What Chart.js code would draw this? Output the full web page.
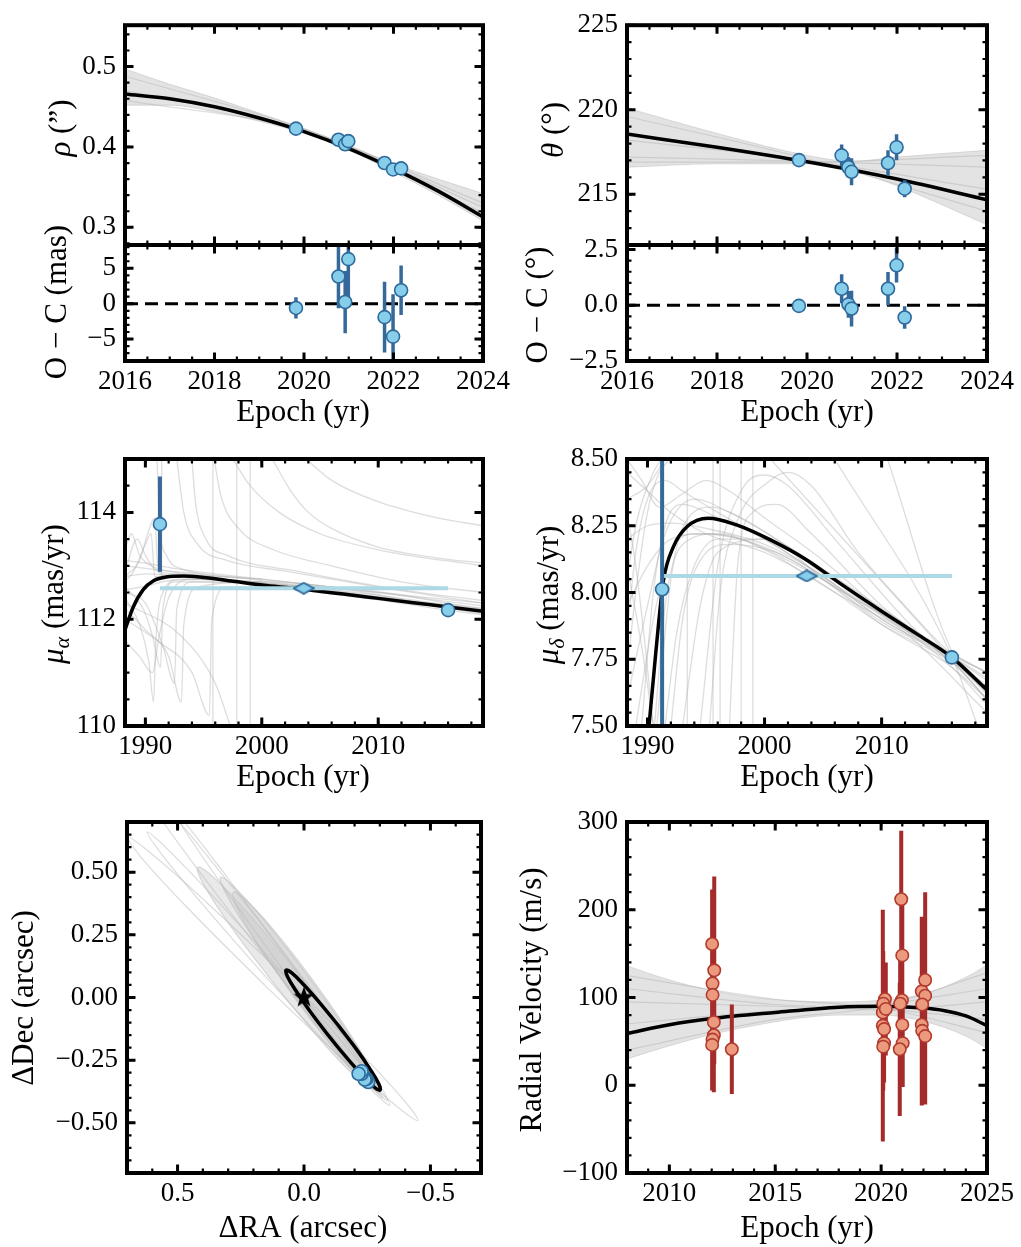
<!DOCTYPE html>
<html>
<head>
<meta charset="utf-8">
<script src="https://cdn.jsdelivr.net/npm/chart.js@4.4.0/dist/chart.umd.min.js"></script>
<style>
html, body { margin: 0; padding: 0; background: #fff; }
#fig { position: relative; width: 1021px; height: 1247px; }
#fig canvas { position: absolute; left: 0; top: 0; }
</style>
</head>
<body>
<div id="fig">
  <canvas id="sepMain" width="1021" height="1247"></canvas>
  <canvas id="sepRes" width="1021" height="1247"></canvas>
  <canvas id="paMain" width="1021" height="1247"></canvas>
  <canvas id="paRes" width="1021" height="1247"></canvas>
  <canvas id="pmRa" width="1021" height="1247"></canvas>
  <canvas id="pmDec" width="1021" height="1247"></canvas>
  <canvas id="orbit" width="1021" height="1247"></canvas>
  <canvas id="rv" width="1021" height="1247"></canvas>
</div>
<script>
// ---- relative astrometry ----
const astEpochs = [2019.82, 2020.77, 2020.92, 2020.99, 2021.80, 2021.99, 2022.17];
const sepVals = [0.4228, 0.4090, 0.4033, 0.4072, 0.3800, 0.3720, 0.3733];
const sepResid = [-0.6, 3.85, 0.24, 6.3, -1.9, -4.65, 1.9];      // mas
const sepResidErr = [1.5, 4.5, 4.4, 5.5, 5.0, 6.0, 3.5];         // mas
const paVals = [217.02, 217.30, 216.60, 216.33, 216.85, 217.78, 215.33];
const paErr = [0.25, 0.65, 0.60, 0.80, 0.75, 0.77, 0.50];
const paResid = [-0.03, 0.74, 0.04, -0.15, 0.74, 1.79, -0.55];
const raOff = [-0.254, -0.247, -0.240, -0.240, -0.228, -0.228, -0.216];
const decOff = [-0.337, -0.324, -0.324, -0.327, -0.304, -0.294, -0.304];

const sepFit = [[2016,0.466],[2017,0.460],[2018,0.450],[2019,0.436],[2020,0.419],[2021,0.398],[2022,0.373],[2023,0.345],[2024,0.313]];
const sepBandHi = [[2016,0.497],[2017,0.478],[2018,0.461],[2019,0.442],[2020,0.423],[2021,0.402],[2022,0.379],[2023,0.360],[2024,0.342]];
const sepBandLo = [[2016,0.452],[2017,0.452],[2018,0.444],[2019,0.432],[2020,0.417],[2021,0.396],[2022,0.369],[2023,0.340],[2024,0.308]];
const sepGray = [
  [[2016,0.488],[2020,0.4225],[2024,0.330]],
  [[2016,0.470],[2020,0.421],[2024,0.318]],
  [[2016,0.458],[2020,0.420],[2024,0.325]]
];
const paFit = [[2016,218.56],[2018,217.78],[2020,216.92],[2022,215.90],[2024,214.67]];
const paBandHi = [[2016,220.1],[2018,218.6],[2020,217.3],[2021,216.95],[2022,217.2],[2024,217.6]];
const paBandLo = [[2016,216.6],[2018,216.8],[2020,216.8],[2021,216.4],[2022,215.5],[2024,213.2]];
const paGray = [
  [[2016,219.6],[2020,217.1],[2024,214.0]],
  [[2016,217.2],[2020,216.95],[2024,216.6]],
  [[2016,218.2],[2020,217.0],[2024,215.3]],
  [[2016,216.9],[2020,216.9],[2024,217.3]]
];

// ---- Hipparcos / Gaia proper motions ----
const pmEpochs = [1991.25, 2016.0];
const pmAlpha = [113.78, 112.17];
const pmAlphaErr = [0.89, 0.03];
const pmDelta = [8.012, 7.757];
const pmDeltaErr = [1.0, 0.025];
const hgEpoch = [2003.6];
const hgAlpha = [112.58];
const hgDelta = [8.062];
const hgSpan = [1991.25, 2016.0];

const muAFit = [[1988.25,111.8],[1988.96,112.23],[1989.8,112.55],[1990.7,112.72],[1991.8,112.79],[1993.3,112.81],[1994.7,112.79],[1997.55,112.71],[2000.4,112.63],[2003.57,112.56],[2007,112.47],[2010,112.39],[2013,112.31],[2016,112.23],[2019,112.15]];
const muAGray = [
  [[1988.25,113.0],[1990,112.95],[1992,112.9],[1995,112.85],[2000,112.72],[2005,112.58],[2010,112.45],[2015,112.3],[2019,112.2]],
  [[1988.25,112.55],[1990,112.62],[1992,112.72],[1995,112.74],[2000,112.64],[2005,112.5],[2010,112.36],[2015,112.2],[2019,112.08]],
  [[1988.25,112.8],[1990,112.85],[1993,112.82],[2000,112.68],[2010,112.42],[2019,112.18]],
  [[1988.25,113.1],[1990,113.05],[1992.5,112.95],[1996,112.85],[2000,112.75],[2010,112.5],[2019,112.3]],
  [[1988.25,112.4],[1989.5,111.9],[1990.3,111.2],[1990.7,110.45],[1990.9,111.6],[1991.5,112.5],[1993,112.75],[2000,112.68],[2019,112.15]],
  [[1988.25,112.2],[1990,111.8],[1992,111.3],[1993.1,110.45],[1993.3,111.9],[1994.5,112.6],[2000,112.7],[2019,112.1]],
  [[1988.25,112.0],[1991,111.6],[1994,111.0],[1995.5,110.2],[1995.7,112.0],[1997,112.6],[2005,112.6],[2019,112.2]],
  [[1988.25,112.3],[1993,111.7],[1996,110.8],[1997.3,110.0]],
  [[1988.25,111.6],[1989.5,111.3],[1990.6,111.0],[1991.2,111.7],[1992,112.4],[1994,112.75],[2000,112.7]],
  [[1988.25,112.6],[1989.8,112.2],[1990.6,111.7],[1991.3,111.1],[1991.5,112.2],[1992.5,112.7],[2000,112.7]],
  [[1988.25,112.5],[1990,112.3],[1991.5,111.5],[1992.5,110.8],[1992.7,112.2],[1994,112.7],[2005,112.6]],
  [[1988.25,113.3],[1988.8,113.6],[1989.5,113.2],[1990.5,113.0],[1992,112.9],[2000,112.75],[2019,112.25]],
  [[1988.25,112.9],[1989.3,113.5],[1990,113.2],[1991,112.9],[1993,112.85]],
  [[1988.25,112.8],[1989.5,113.1],[1990.2,113.6],[1990.8,113.9],[1991.1,112.9],[1992,112.8],[2005,112.6]],
  [[1988.25,112.7],[1989,112.9],[1990,113.4],[1990.5,113.6],[1990.8,112.8],[1992,112.8]],
  [[1991.0,115.0],[1991.2,113.8],[1991.8,113.2],[1993,112.95],[2000,112.75]],
  [[1992.7,115.0],[1993.3,114.0],[1994.5,113.4],[1997,113.1],[2002,112.9],[2010,112.6],[2019,112.3]],
  [[1994.0,115.0],[1994.3,114.2],[1995.2,113.5],[1997,113.2],[2003,112.9],[2012,112.55],[2019,112.35]],
  [[1995.9,115.0],[1996.5,114.3],[1998,113.7],[2001,113.3],[2006,113.0],[2012,112.7],[2019,112.5]],
  [[1997.5,115.0],[1999,114.5],[2001.5,114.0],[2005,113.6],[2010,113.3],[2019,113.0]],
  [[2000.9,115.0],[2002.5,114.4],[2004,114.0],[2006,113.7],[2010,113.35],[2015,113.15],[2019,113.05]],
  [[2003.8,115.0],[2006,114.6],[2010,114.2],[2015,113.9],[2019,113.75]]
];
const muAVert = [
  [[1995.8,110],[1995.8,115]],
  [[1997.85,110],[1997.85,115]],
  [[1999.0,110],[1999.0,115]],
  [[1991.4,112.8],[1991.4,115]]
];

const muDFit = [[1990.0,7.44],[1990.52,7.685],[1990.95,7.885],[1991.37,8.047],[1992.2,8.17],[1993.37,8.246],[1995.2,8.278],[1997.6,8.253],[2000.5,8.197],[2003.6,8.122],[2006.45,8.034],[2010,7.93],[2013,7.845],[2016,7.757],[2019,7.635]];
const muDGray = [
  [[1988.25,8.45],[1990,8.38],[1992,8.3],[1995,8.22],[2000,8.15],[2005,8.03],[2010,7.88],[2016,7.74],[2019,7.64]],
  [[1988.25,8.2],[1990,8.25],[1992,8.26],[1995,8.24],[2000,8.18],[2005,8.06],[2010,7.9],[2016,7.76],[2019,7.68]],
  [[1988.25,7.95],[1990,8.1],[1992,8.2],[1995,8.22],[2000,8.17],[2005,8.05],[2010,7.89],[2016,7.74],[2019,7.6]],
  [[1989.0,7.5],[1990.5,7.9],[1992,8.15],[1994,8.22],[1998,8.2],[2002,8.12],[2008,7.97],[2016,7.75],[2019,7.62]],
  [[1990.6,7.5],[1991.5,7.95],[1993,8.18],[1996,8.22],[2000,8.16],[2006,8.0],[2012,7.86],[2016,7.77],[2019,7.7]],
  [[1992.0,7.5],[1993,7.9],[1994.5,8.12],[1997,8.18],[2001,8.15],[2006,8.02],[2012,7.85],[2019,7.55]],
  [[1988.25,8.5],[1989.5,8.42],[1991,8.32],[1993,8.37],[1995,8.42],[1997,8.38],[2000,8.28],[2005,8.12],[2010,7.93],[2016,7.72],[2019,7.58]],
  [[1994.5,7.5],[1996,8.1],[1998,8.38],[2000,8.44],[2002,8.4],[2006,8.2],[2012,7.9],[2016,7.73]],
  [[1993.0,7.5],[1994.5,7.95],[1996,8.15],[2000,8.2],[2005,8.05],[2010,7.88],[2016,7.72],[2019,7.6]],
  [[1988.25,7.7],[1989,8.0],[1990,8.3],[1991,8.45],[1992,8.5]],
  [[1988.25,8.1],[1989.5,7.8],[1990.5,7.5]],
  [[1988.25,8.35],[1990,8.4],[1991.5,8.5]],
  [[1988.25,7.6],[1990,7.95],[1991.5,8.22],[1994,8.35],[1997,8.3],[2001,8.2],[2008,8.0],[2016,7.77],[2019,7.7]],
  [[1988.25,7.85],[1989,8.15],[1990,8.35],[1991.5,8.42],[1993,8.38],[1996,8.3],[2000,8.2],[2005,8.06],[2010,7.9],[2016,7.75],[2019,7.65]],
  [[1989.5,7.5],[1990.5,8.0],[1991.5,8.25],[1993,8.33],[1996,8.28],[2000,8.2],[2006,8.03],[2012,7.86],[2016,7.75],[2019,7.63]],
  [[1990.8,7.5],[1992,8.05],[1993.5,8.28],[1995.5,8.32],[1998,8.28],[2002,8.17],[2008,7.98],[2016,7.74],[2019,7.6]],
  [[1991.5,7.5],[1992.5,7.85],[1994,8.1],[1996,8.2],[2000,8.2],[2005,8.07],[2010,7.92],[2016,7.76],[2019,7.67]],
  [[1988.25,8.3],[1989,8.1],[1989.8,7.8],[1990.5,7.5]],
  [[1988.25,8.05],[1989,8.25],[1990.5,8.45],[1991.2,8.5]],
  [[1995.3,7.5],[1996.2,8.0],[1997.5,8.25],[2000.5,8.42],[2002,8.45],[2004,8.4],[2008,8.15],[2012,7.95],[2016,7.77],[2019,7.7]],
  [[1997.0,7.5],[1997.7,8.1],[1999,8.3],[2001,8.33],[2004,8.22],[2010,7.95],[2016,7.75]],
  [[2000.5,8.5],[2016,7.75],[2019,7.6]],
  [[2006,8.5],[2016,7.76],[2018.2,7.5]],
  [[2010.5,8.5],[2016,7.78],[2019,7.62]]
];
const muDVert = [
  [[1993.4,7.5],[1993.4,8.5]],
  [[1995.6,7.5],[1995.6,8.5]],
  [[1996.2,7.5],[1996.2,8.5]],
  [[1998.0,7.5],[1998.0,8.5]],
  [[1999.0,7.5],[1999.0,8.5]]
];

// ---- sky-plane orbit (dRA, dDec in arcsec) ----
const orbitFit = [[-0.137,-0.113],[-0.064,-0.023],[0.001,0.051],[0.0485,0.098],[0.071,0.109],[0.0655,0.084],[0.032,0.027],[-0.023,-0.054],[-0.093,-0.147],[-0.166,-0.237],[-0.231,-0.311],[-0.2785,-0.358],[-0.301,-0.369],[-0.2955,-0.344],[-0.262,-0.287],[-0.207,-0.206],[-0.137,-0.113]];
const orbitGray = [
  [[0.153,0.0465],[-0.138,-0.232],[-0.359,-0.428],[-0.45,-0.49],[-0.387,-0.400],[-0.187,-0.183],[0.097,0.1035],[0.388,0.382],[0.609,0.578],[0.70,0.64],[0.637,0.550],[0.437,0.333],[0.153,0.0465]],
  [[0.1625,0.0952],[-0.081,-0.175],[-0.265,-0.367],[-0.34,-0.43],[-0.287,-0.347],[-0.120,-0.140],[0.1175,0.1348],[0.361,0.405],[0.545,0.597],[0.62,0.66],[0.567,0.577],[0.400,0.370],[0.1625,0.0952]],
  [[0.2027,0.2236],[-0.0535,-0.101],[-0.248,-0.333],[-0.33,-0.41],[-0.276,-0.311],[-0.1015,-0.064],[0.1473,0.2664],[0.4035,0.591],[0.598,0.823],[0.68,0.90],[0.626,0.801],[0.452,0.554],[0.2027,0.2236]],
  [[0.1212,0.1633],[-0.0885,-0.1226],[-0.246,-0.329],[-0.31,-0.40],[-0.262,-0.317],[-0.1165,-0.1024],[0.0888,0.1867],[0.2985,0.4726],[0.456,0.679],[0.52,0.75],[0.472,0.667],[0.3265,0.452],[0.1212,0.1633]]
];
const orbitCloud = [
  [[0.051,0.023],[-0.111,-0.188],[-0.240,-0.335],[-0.30,-0.38],[-0.276,-0.309],[-0.174,-0.142],[-0.021,0.077],[0.141,0.288],[0.270,0.435],[0.33,0.48],[0.306,0.409],[0.204,0.242],[0.051,0.023]],
  [[0.0356,-0.0043],[-0.112,-0.198],[-0.232,-0.332],[-0.29,-0.37],[-0.272,-0.302],[-0.183,-0.147],[-0.0456,0.0543],[0.102,0.248],[0.222,0.382],[0.28,0.42],[0.262,0.352],[0.173,0.197],[0.0356,-0.0043]],
  [[0.1144,0.0491],[-0.063,-0.167],[-0.204,-0.316],[-0.27,-0.36],[-0.244,-0.286],[-0.132,-0.113],[0.0356,0.1109],[0.213,0.327],[0.354,0.476],[0.42,0.52],[0.394,0.446],[0.282,0.273],[0.1144,0.0491]]
];
const hostStar = [[0, 0]];

// ---- radial velocities (m/s) ----
const rvEpochs = [2012.02, 2012.12, 2012.04, 2012.04, 2012.10, 2012.10, 2012.04, 2012.02, 2012.95,
  2020.18, 2020.10, 2020.08, 2020.22, 2020.08, 2020.14, 2020.14, 2020.10,
  2020.95, 2021.00, 2020.98, 2020.90, 2021.00, 2021.02, 2020.88,
  2021.92, 2022.08, 2022.08, 2021.94, 2021.92, 2021.94, 2022.08];
const rvVals = [161, 131, 116, 103, 72, 57, 52, 46, 41,
  98, 93, 83, 87, 68, 64, 48, 44,
  212, 148, 97, 93, 69, 48, 41,
  107, 120, 102, 92, 69, 62, 56];
const rvErr = [62, 107, 100, 95, 80, 60, 58, 52, 51,
  40, 60, 50, 53, 132, 60, 45, 50,
  78, 70, 95, 60, 60, 50, 76,
  85, 100, 80, 70, 92, 80, 78];
const rvFit = [[2008,59],[2010,69],[2012,76],[2015,83],[2018,89],[2020,90],[2022,88],[2023,85],[2024,79],[2025,68]];
const rvBandHi = [[2008,136],[2010,120],[2012,108],[2014,100],[2016,96],[2018,95],[2020,97],[2022,104],[2024,123],[2025,137]];
const rvBandLo = [[2008,30],[2010,45],[2012,58],[2014,68],[2016,76],[2018,80],[2020,80],[2022,73],[2024,56],[2025,42]];
const rvGray = [
  [[2008,125],[2015,98],[2020,88],[2025,60]],
  [[2008,40],[2015,75],[2020,90],[2025,128]],
  [[2008,95],[2015,90],[2020,86],[2025,95]],
  [[2008,70],[2015,85],[2020,92],[2025,110]],
  [[2008,110],[2015,92],[2020,87],[2025,75]]
];

// ---- tick labels ----
const yearTicks = [2016, 2018, 2020, 2022, 2024];
const sepTicks = [0.3, 0.4, 0.5];
const sepResTicks = [-5, 0, 5];
const paTicks = [215, 220, 225];
const paResTicks = [-2.5, 0, 2.5];
const pmYearTicks = [1990, 2000, 2010];
const muATicks = [110, 112, 114];
const muDTicks = [7.5, 7.75, 8.0, 8.25, 8.5];
const raTicks = [0.5, 0, -0.5];
const decTicks = [-0.5, -0.25, 0, 0.25, 0.5];
const rvYearTicks = [2010, 2015, 2020, 2025];
const rvTicks = [-100, 0, 100, 200, 300];

// ---------------------------------------------------------------
const W = 1021, H = 1247;
const FONT = "'Liberation Serif', 'Times New Roman', serif";
const GRAY = 'rgba(175,175,175,0.42)';
const BAND = 'rgba(200,200,200,0.5)';
const PT_FILL = '#87CEEB', PT_EDGE = '#2E6A9C', ERR_BLUE = '#35699A', HG_BLUE = '#ADD8E6';
const RV_FILL = '#EC9A7E', RV_EDGE = '#B23A2E', RV_ERR = '#A52A2A';

const xy = arr => arr.map(p => ({x: p[0], y: p[1]}));

function errSegs(xs, ys, es) {
  const out = [];
  xs.forEach((x, i) => { out.push({x, y: ys[i] - es[i]}, {x, y: ys[i] + es[i]}, {x, y: null}); });
  return out;
}

const curve = (pts, color, width, extra) => Object.assign({
  type: 'line', data: xy(pts), borderColor: color, borderWidth: width, pointRadius: 0,
  cubicInterpolationMode: 'monotone', fill: false, order: 5
}, extra || {});

const markers = (xs, ys, fill, edge, extra) => Object.assign({
  data: xs.map((x, i) => ({x, y: ys[i]})), showLine: false,
  pointRadius: 6.5, pointBackgroundColor: fill, backgroundColor: fill,
  pointBorderColor: edge, borderColor: edge, pointBorderWidth: 1.6, order: 0
}, extra || {});

const bars = (xs, ys, es, color, width) => ({
  type: 'line', data: errSegs(xs, ys, es), borderColor: color, borderWidth: width,
  pointRadius: 0, tension: 0, order: 1
});

function starImg(size) {
  const c = document.createElement('canvas');
  c.width = c.height = size;
  const g = c.getContext('2d');
  g.fillStyle = '#000';
  g.beginPath();
  for (let i = 0; i < 10; i++) {
    const r = i % 2 ? size * 0.2 : size * 0.5;
    const a = -Math.PI / 2 + i * Math.PI / 5;
    g.lineTo(size / 2 + r * Math.cos(a), size / 2 + r * Math.sin(a));
  }
  g.closePath();
  g.fill();
  return c;
}

function diamondImg(w, h) {
  const c = document.createElement('canvas');
  c.width = w; c.height = h;
  const g = c.getContext('2d');
  g.fillStyle = PT_FILL;
  g.strokeStyle = PT_EDGE;
  g.lineWidth = 1.8;
  g.beginPath();
  g.moveTo(w / 2, 1); g.lineTo(w - 1, h / 2); g.lineTo(w / 2, h - 1); g.lineTo(1, h / 2);
  g.closePath();
  g.fill(); g.stroke();
  return c;
}

// frame + inward ticks on all four sides
const axisFrame = {
  id: 'axisFrame',
  afterDraw(chart, args, o) {
    const {ctx, chartArea: a} = chart;
    const sx = chart.scales.x, sy = chart.scales.y;
    const marks = (scale, step) => {
      const lo = Math.min(scale.min, scale.max), hi = Math.max(scale.min, scale.max);
      const out = [];
      for (let k = Math.ceil(lo / step - 1e-9); k * step <= hi + 1e-9; k++) out.push(k * step);
      return out;
    };
    const draw = (scale, vals, len, lw) => {
      ctx.lineWidth = lw;
      ctx.beginPath();
      vals.forEach(v => {
        const p = scale.getPixelForValue(v);
        if (scale.isHorizontal()) {
          ctx.moveTo(p, a.bottom); ctx.lineTo(p, a.bottom - len);
          ctx.moveTo(p, a.top); ctx.lineTo(p, a.top + len);
        } else {
          ctx.moveTo(a.left, p); ctx.lineTo(a.left + len, p);
          ctx.moveTo(a.right, p); ctx.lineTo(a.right - len, p);
        }
      });
      ctx.stroke();
    };
    ctx.save();
    ctx.strokeStyle = '#000';
    ctx.lineCap = 'butt';
    draw(sx, marks(sx, o.xMinor), 4.5, 2.2);
    draw(sy, marks(sy, o.yMinor), 4.5, 2.2);
    draw(sx, sx.ticks.map(t => t.value), 8.5, 3);
    draw(sy, sy.ticks.map(t => t.value), 8.5, 3);
    ctx.lineWidth = 4;
    ctx.strokeRect(a.left, a.top, a.right - a.left, a.bottom - a.top);
    ctx.restore();
  }
};

function drawRich(ctx, it) {
  const size = 31;
  const fontOf = s => `${s.it ? 'italic ' : ''}${s.sub ? Math.round(size * 0.7) : size}px ${FONT}`;
  ctx.save();
  ctx.fillStyle = '#000';
  ctx.textBaseline = 'middle';
  ctx.textAlign = 'left';
  let w = 0;
  it.segs.forEach(s => { ctx.font = fontOf(s); w += ctx.measureText(s.t).width; });
  ctx.translate(it.x, it.y);
  if (it.rot) ctx.rotate(-Math.PI / 2);
  let cx = -w / 2;
  it.segs.forEach(s => {
    ctx.font = fontOf(s);
    ctx.fillText(s.t, cx, s.sub ? size * 0.28 : 0);
    cx += ctx.measureText(s.t).width;
  });
  ctx.restore();
}

const axisTitles = {
  id: 'axisTitles',
  afterDraw(chart, args, o) {
    (o.items || []).forEach(it => drawRich(chart.ctx, it));
  }
};

Chart.register(axisFrame, axisTitles);

const fmt = dec => v => Number(v).toFixed(dec).replace('-', '\u2212');

function axis(pos, c, fitSize) {
  return {
    type: 'linear', position: pos, min: c.min, max: c.max, reverse: !!c.reverse,
    grid: {display: false, drawTicks: false},
    border: {display: false},
    afterBuildTicks: s => { s.ticks = c.ticks.map(v => ({value: v})); },
    afterFit: s => { if (pos === 'left') s.width = fitSize; else s.height = fitSize; },
    ticks: {
      display: c.labels !== false, padding: pos === 'left' ? 9 : 5, color: '#000',
      font: {family: FONT, size: 27}, maxRotation: 0, autoSkip: false, callback: fmt(c.dec)
    }
  };
}

function panel(id, rect, xc, yc, datasets, titles) {
  const yW = 100, xH = xc.labels === false ? 0 : 45;
  return new Chart(document.getElementById(id), {
    type: 'scatter',
    data: {datasets},
    options: {
      responsive: false, animation: false, events: [],
      layout: {padding: {left: rect[0] - yW, top: rect[1], right: W - rect[2], bottom: H - rect[3] - xH}},
      plugins: {
        legend: {display: false}, tooltip: {enabled: false},
        axisFrame: {xMinor: xc.minor, yMinor: yc.minor},
        axisTitles: {items: titles}
      },
      scales: {x: axis('bottom', xc, xH), y: axis('left', yc, yW)}
    }
  });
}

const epochTitle = (x, y) => ({segs: [{t: 'Epoch (yr)'}], x, y});
const sepErrArcsec = sepResidErr.map(e => e / 1000);
const zeroLine = (x0, x1) => curve([[x0, 0], [x1, 0]], '#000', 3, {borderDash: [13, 7], order: 3});

// separation
panel('sepMain', [125, 10, 483, 245],
  {min: 2016, max: 2024, ticks: yearTicks, minor: 0.5, dec: 0, labels: false},
  {min: 0.278, max: 0.5515, ticks: sepTicks, minor: 0.02, dec: 1},
  [
    markers(astEpochs, sepVals, PT_FILL, PT_EDGE),
    bars(astEpochs, sepVals, sepErrArcsec, ERR_BLUE, 3.5),
    curve(sepFit, '#000', 3.5, {order: 3}),
    ...sepGray.map(g => curve(g, GRAY, 1.2)),
    curve(sepBandHi, 'rgba(190,190,190,0.5)', 1, {order: 6}),
    curve(sepBandLo, 'rgba(190,190,190,0.5)', 1, {order: 6, fill: '-1', backgroundColor: BAND})
  ],
  [{segs: [{t: 'ρ', it: true}, {t: ' (\u201D)'}], x: 62, y: 128, rot: true}]);

panel('sepRes', [125, 245, 483, 361],
  {min: 2016, max: 2024, ticks: yearTicks, minor: 0.5, dec: 0},
  {min: -8.1, max: 8.3, ticks: sepResTicks, minor: 1, dec: 0},
  [
    markers(astEpochs, sepResid, PT_FILL, PT_EDGE),
    bars(astEpochs, sepResid, sepResidErr, ERR_BLUE, 3.5),
    zeroLine(2016, 2024)
  ],
  [{segs: [{t: 'O \u2212 C (mas)'}], x: 58, y: 302, rot: true}, epochTitle(303, 413)]);

// position angle
panel('paMain', [627, 10, 987, 245],
  {min: 2016, max: 2024, ticks: yearTicks, minor: 0.5, dec: 0, labels: false},
  {min: 212, max: 225, ticks: paTicks, minor: 1, dec: 0},
  [
    markers(astEpochs, paVals, PT_FILL, PT_EDGE),
    bars(astEpochs, paVals, paErr, ERR_BLUE, 3.5),
    curve(paFit, '#000', 3.5, {order: 3}),
    ...paGray.map(g => curve(g, GRAY, 1.2)),
    curve(paBandHi, 'rgba(190,190,190,0.5)', 1, {order: 6}),
    curve(paBandLo, 'rgba(190,190,190,0.5)', 1, {order: 6, fill: '-1', backgroundColor: BAND})
  ],
  [{segs: [{t: 'θ', it: true}, {t: ' (°)'}], x: 555, y: 130, rot: true}]);

panel('paRes', [627, 245, 987, 361],
  {min: 2016, max: 2024, ticks: yearTicks, minor: 0.5, dec: 0},
  {min: -2.5, max: 2.7, ticks: paResTicks, minor: 0.5, dec: 1},
  [
    markers(astEpochs, paResid, PT_FILL, PT_EDGE),
    bars(astEpochs, paResid, paErr, ERR_BLUE, 3.5),
    zeroLine(2016, 2024)
  ],
  [{segs: [{t: 'O \u2212 C (°)'}], x: 539, y: 305, rot: true}, epochTitle(807, 413)]);

// proper motions
const diamond = diamondImg(22, 13);
panel('pmRa', [125, 459, 483, 726],
  {min: 1988.25, max: 2019, ticks: pmYearTicks, minor: 2, dec: 0},
  {min: 110, max: 115, ticks: muATicks, minor: 0.5, dec: 0},
  [
    markers(pmEpochs, pmAlpha, PT_FILL, PT_EDGE),
    markers(hgEpoch, hgAlpha, PT_FILL, PT_EDGE, {pointStyle: diamond}),
    bars(pmEpochs, pmAlpha, pmAlphaErr, ERR_BLUE, 4),
    curve(hgSpan.map(x => [x, hgAlpha[0]]), HG_BLUE, 4, {order: 2}),
    curve(muAFit, '#000', 3.5, {order: 3}),
    ...muAGray.map(g => curve(g, GRAY, 1.3)),
    ...muAVert.map(g => curve(g, GRAY, 1.3, {cubicInterpolationMode: 'default', tension: 0}))
  ],
  [{segs: [{t: 'μ', it: true}, {t: 'α', it: true, sub: true}, {t: ' (mas/yr)'}], x: 55, y: 594, rot: true},
   epochTitle(303, 778)]);

panel('pmDec', [627, 459, 987, 726],
  {min: 1988.25, max: 2019, ticks: pmYearTicks, minor: 2, dec: 0},
  {min: 7.5, max: 8.5, ticks: muDTicks, minor: 0.05, dec: 2},
  [
    markers(pmEpochs, pmDelta, PT_FILL, PT_EDGE),
    markers(hgEpoch, hgDelta, PT_FILL, PT_EDGE, {pointStyle: diamond}),
    bars(pmEpochs, pmDelta, pmDeltaErr, ERR_BLUE, 4),
    curve(hgSpan.map(x => [x, hgDelta[0]]), HG_BLUE, 4, {order: 2}),
    curve(muDFit, '#000', 3.5, {order: 3}),
    ...muDGray.map(g => curve(g, GRAY, 1.3)),
    ...muDVert.map(g => curve(g, GRAY, 1.3, {cubicInterpolationMode: 'default', tension: 0}))
  ],
  [{segs: [{t: 'μ', it: true}, {t: 'δ', it: true, sub: true}, {t: ' (mas/yr)'}], x: 550, y: 595, rot: true},
   epochTitle(807, 778)]);

// orbit on the sky
panel('orbit', [127, 822, 481, 1173],
  {min: -0.7, max: 0.7, reverse: true, ticks: raTicks, minor: 0.1, dec: 1},
  {min: -0.7, max: 0.7, ticks: decTicks, minor: 0.05, dec: 2},
  [
    markers(raOff, decOff, PT_FILL, PT_EDGE),
    markers([hostStar[0][0]], [hostStar[0][1]], '#000', '#000', {pointStyle: starImg(22), order: 0}),
    curve(orbitFit, '#000', 3.5, {cubicInterpolationMode: 'default', tension: 0.4, order: 3}),
    ...orbitGray.map(g => curve(g, 'rgba(185,185,185,0.5)', 1.2, {cubicInterpolationMode: 'default', tension: 0.4})),
    ...orbitCloud.map(g => curve(g, 'rgba(185,185,185,0.5)', 1.2,
      {cubicInterpolationMode: 'default', tension: 0.4, fill: 'shape', backgroundColor: 'rgba(200,200,200,0.4)'}))
  ],
  [{segs: [{t: 'ΔDec (arcsec)'}], x: 25, y: 998, rot: true},
   {segs: [{t: 'ΔRA (arcsec)'}], x: 303, y: 1229}]);

// radial velocity
panel('rv', [627, 822, 987, 1173],
  {min: 2008, max: 2025, ticks: rvYearTicks, minor: 1, dec: 0},
  {min: -100, max: 300, ticks: rvTicks, minor: 20, dec: 0},
  [
    markers(rvEpochs, rvVals, RV_FILL, RV_EDGE, {pointRadius: 6.2}),
    bars(rvEpochs, rvVals, rvErr, RV_ERR, 4),
    curve(rvFit, '#000', 3.5, {order: 3}),
    ...rvGray.map(g => curve(g, GRAY, 1.2)),
    curve(rvBandHi, 'rgba(190,190,190,0.5)', 1, {order: 6}),
    curve(rvBandLo, 'rgba(190,190,190,0.5)', 1, {order: 6, fill: '-1', backgroundColor: BAND})
  ],
  [{segs: [{t: 'Radial Velocity (m/s)'}], x: 533, y: 1000, rot: true}, epochTitle(807, 1229)]);
</script>
</body>
</html>
